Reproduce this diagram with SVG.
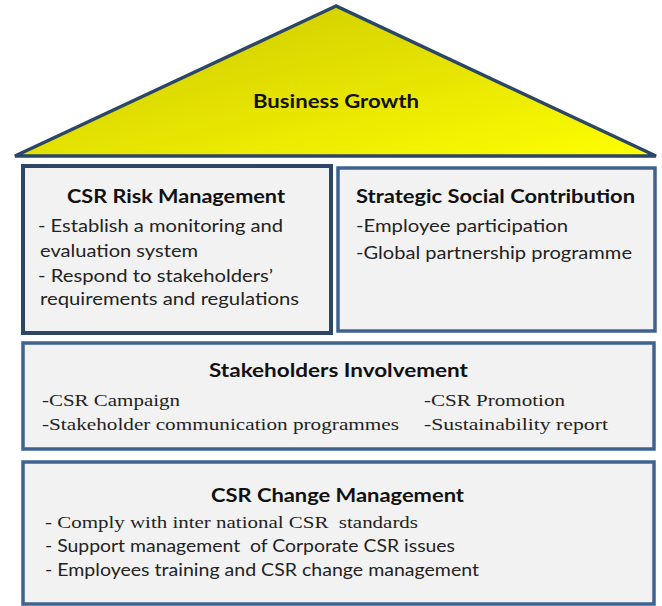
<svg xmlns="http://www.w3.org/2000/svg" width="662" height="606" viewBox="0 0 662 606">
  <defs>
    <linearGradient id="roofFill" x1="0" y1="0" x2="1" y2="1">
      <stop offset="0" stop-color="#c9c600"/>
      <stop offset="0.55" stop-color="#e6e400"/>
      <stop offset="1" stop-color="#ffff00"/>
    </linearGradient>
  </defs>
  <style>
    text { white-space: pre; }
    .panel { fill: #f2f2f2; stroke: #3f6390; stroke-width: 3.5; }
    .panel-dark { stroke: #2c4668; stroke-width: 4; }
    .title { font-family: Lato, "Open Sans", sans-serif; font-weight: bold; font-size: 19.5px; fill: #111; }
    .body { font-family: Lato, "Open Sans", sans-serif; font-size: 17px; fill: #222; }
    .serif { font-family: "Liberation Serif", "Times New Roman", serif; font-size: 17.5px; fill: #222; }
  </style>
  <rect width="662" height="606" fill="#ffffff"/>

  <!-- Roof -->
  <g id="business-growth">
    <polygon points="336,6 15,156 656,156" fill="url(#roofFill)" stroke="#2c4668" stroke-width="3.5" stroke-linejoin="miter"/>
    <text class="title" x="253" y="108" textLength="166" lengthAdjust="spacingAndGlyphs">Business Growth</text>
  </g>

  <!-- Left pillar -->
  <g id="csr-risk-management">
    <rect class="panel panel-dark" x="23" y="166" width="308" height="167"/>
    <text class="title" x="67" y="203" textLength="218" lengthAdjust="spacingAndGlyphs">CSR Risk Management</text>
    <text class="body" x="38" y="232" textLength="245" lengthAdjust="spacingAndGlyphs">- Establish a monitoring and</text>
    <text class="body" x="40" y="257" textLength="158" lengthAdjust="spacingAndGlyphs">evaluation system</text>
    <text class="body" x="38" y="282" textLength="235" lengthAdjust="spacingAndGlyphs">- Respond to stakeholders’</text>
    <text class="body" x="40" y="305" textLength="259" lengthAdjust="spacingAndGlyphs">requirements and regulations</text>
  </g>

  <!-- Right pillar -->
  <g id="strategic-social-contribution">
    <rect class="panel" x="338" y="168" width="317" height="163"/>
    <text class="title" x="356" y="203" textLength="279" lengthAdjust="spacingAndGlyphs">Strategic Social Contribution</text>
    <text class="body" x="356" y="232" textLength="212" lengthAdjust="spacingAndGlyphs">-Employee participation</text>
    <text class="body" x="356" y="259" textLength="276" lengthAdjust="spacingAndGlyphs">-Global partnership programme</text>
  </g>

  <!-- Middle floor -->
  <g id="stakeholders-involvement">
    <rect class="panel" x="23" y="343" width="631" height="106"/>
    <text class="title" x="209" y="377" textLength="259" lengthAdjust="spacingAndGlyphs">Stakeholders Involvement</text>
    <text class="serif" x="42" y="406" textLength="138" lengthAdjust="spacingAndGlyphs">-CSR Campaign</text>
    <text class="serif" x="42" y="430" textLength="357" lengthAdjust="spacingAndGlyphs">-Stakeholder communication programmes</text>
    <text class="serif" x="424" y="406" textLength="141" lengthAdjust="spacingAndGlyphs">-CSR Promotion</text>
    <text class="serif" x="424" y="430" textLength="184" lengthAdjust="spacingAndGlyphs">-Sustainability report</text>
  </g>

  <!-- Foundation -->
  <g id="csr-change-management">
    <rect class="panel" x="23" y="462" width="631" height="142"/>
    <text class="title" x="211" y="502" textLength="253" lengthAdjust="spacingAndGlyphs">CSR Change Management</text>
    <text class="serif" x="45" y="528" textLength="373" lengthAdjust="spacingAndGlyphs">- Comply with inter national CSR  standards</text>
    <text class="body" x="45" y="552" textLength="410" lengthAdjust="spacingAndGlyphs">- Support management  of Corporate CSR issues</text>
    <text class="body" x="45" y="576" textLength="434" lengthAdjust="spacingAndGlyphs">- Employees training and CSR change management</text>
  </g>
</svg>
